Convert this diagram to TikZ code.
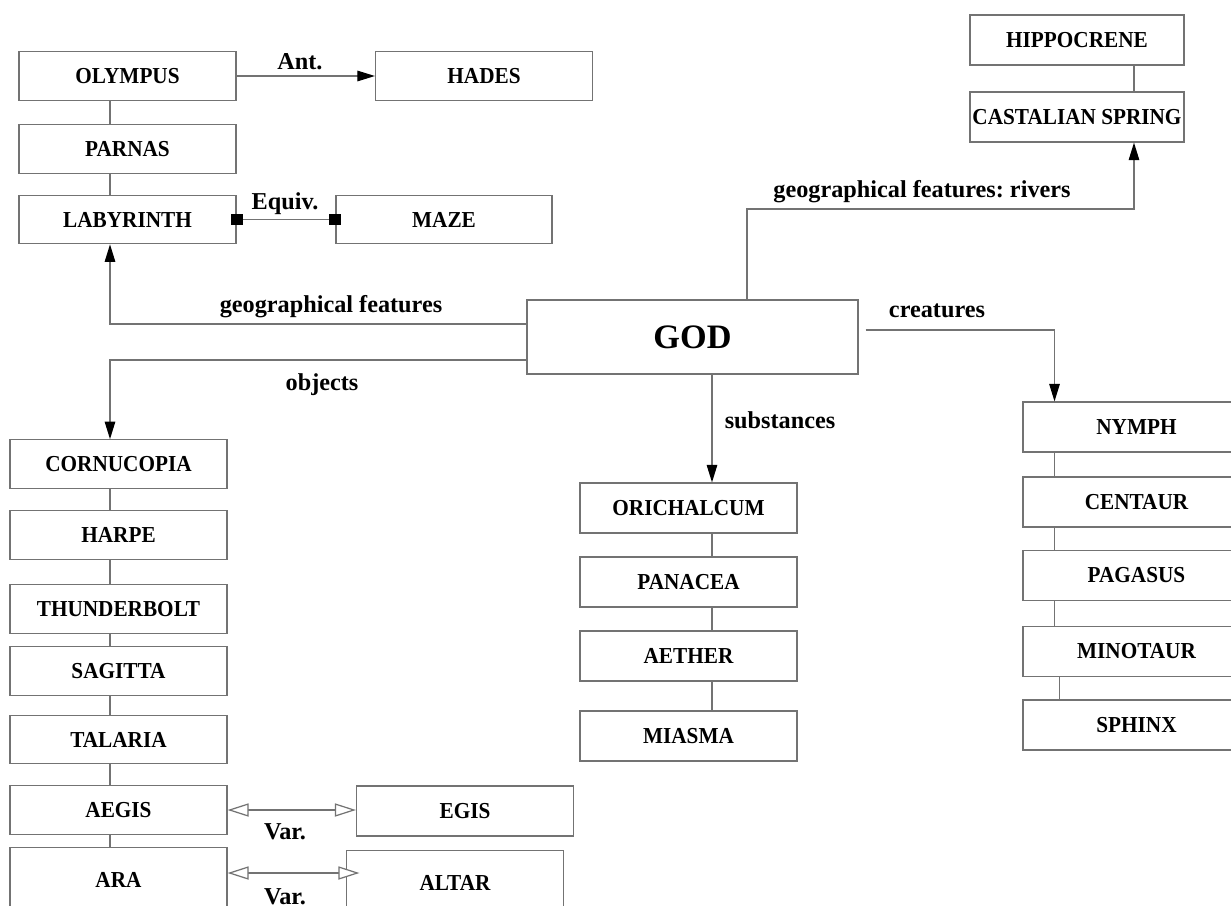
\documentclass[tikz,border=0pt]{standalone}
\usepackage{fontspec}
\setmainfont{Liberation Serif}
\newfontfamily\boxfont[FakeStretch=0.93]{Liberation Serif}
\usetikzlibrary{positioning}
\usetikzlibrary{arrows.meta}

\begin{document}
\begin{tikzpicture}
      [
        x = 0.02cm, y = -0.02cm,
        box/.style = {draw=black!55, line width=0.7pt, fill=white, minimum width=4.34cm, minimum height=0.97cm, inner sep=0pt, font=\boxfont\fontsize{13}{15}\selectfont\bfseries},
        link/.style = {draw=black!55, line width=0.7pt},
        arr/.style = {link, -{Triangle[length=10pt,width=6pt,black]}},
        vararr/.style = {link, {Triangle[open,length=12pt,width=7.5pt,fill=white]}-{Triangle[open,length=12pt,width=7.5pt,fill=white]}},
        eqarr/.style = {link, {Square[length=6.8pt,width=6.8pt,black]}-{Square[length=6.8pt,width=6.8pt,black]}, shorten <=-3.4pt, shorten >=-3.4pt},
        lbl/.style = {font=\fontsize{13.8}{16}\selectfont\bfseries\frenchspacing}
      ]

      \useasboundingbox (0,0) rectangle (1231,906);

      \node[box] (olympus) at (127.5,76) {OLYMPUS};
      \node[box] (hades) at (484,76) {HADES};
      \node[box] (parnas) at (127.5,149) {PARNAS};
      \node[box] (labyrinth) at (127.5,219.5) {LABYRINTH};
      \node[box, minimum width=4.32cm] (maze) at (444,219.5) {MAZE};

      \node[box, minimum width=4.28cm, minimum height=1cm] (hippocrene) at (1077,40) {HIPPOCRENE};
      \node[box, minimum width=4.28cm, minimum height=1cm] (castalian) at (1077,117) {CASTALIAN SPRING};

      \node[box, minimum width=6.62cm, minimum height=1.48cm, font=\fontsize{19.5}{22}\selectfont\bfseries] (god) at (692.5,337) {GOD};

      \node[box] (cornucopia) at (118.5,464) {CORNUCOPIA};
      \node[box] (harpe) at (118.5,535) {HARPE};
      \node[box] (thunderbolt) at (118.5,609) {THUNDERBOLT};
      \node[box] (sagitta) at (118.5,671) {SAGITTA};
      \node[box] (talaria) at (118.5,739.5) {TALARIA};
      \node[box] (aegis) at (118.5,810) {AEGIS};
      \node[box, minimum height=1.3cm] (ara) at (118.5,880) {ARA};
      \node[box, minimum height=1cm] (egis) at (465,811) {EGIS};
      \node[box, minimum height=1.3cm] (altar) at (455,883) {ALTAR};

      \node[box, minimum height=1cm] (orichalcum) at (688.5,508) {ORICHALCUM};
      \node[box, minimum height=1cm] (panacea) at (688.5,582) {PANACEA};
      \node[box, minimum height=1cm] (aether) at (688.5,656) {AETHER};
      \node[box, minimum height=1cm] (miasma) at (688.5,736) {MIASMA};

      \node[box, minimum width=4.54cm, minimum height=1cm] (nymph) at (1136.5,427) {NYMPH};
      \node[box, minimum width=4.54cm, minimum height=1cm] (centaur) at (1136.5,502) {CENTAUR};
      \node[box, minimum width=4.54cm, minimum height=1cm] (pagasus) at (1136.5,575.5) {PAGASUS};
      \node[box, minimum width=4.54cm, minimum height=1cm] (minotaur) at (1136.5,651.5) {MINOTAUR};
      \node[box, minimum width=4.54cm, minimum height=1cm] (sphinx) at (1136.5,725) {SPHINX};

      \coordinate (rivers) at (940,209);
      \coordinate (araR) at ([yshift=0.14cm]ara.east);
      \coordinate (altarL) at (araR -| altar.west);

      \draw[arr] (olympus.east) -- (hades.west);
      \draw[link] ([xshift=-0.35cm]olympus.south) -- ([xshift=-0.35cm]parnas.north);
      \draw[link] ([xshift=-0.35cm]parnas.south) -- ([xshift=-0.35cm]labyrinth.north);
      \draw[eqarr] (labyrinth.east) -- (maze.west);
      \draw[link] ([xshift=1.14cm]hippocrene.south) -- ([xshift=1.14cm]castalian.north);

      \draw[arr] ([yshift=0.26cm]god.west) -| ([xshift=-0.35cm]labyrinth.south);
      \draw[arr] ([yshift=-0.46cm]god.west) -| ([xshift=-0.17cm]cornucopia.north);
      \draw[arr] ([xshift=1.09cm]god.north) |- (rivers) -| ([xshift=1.14cm]castalian.south);
      \draw[arr] ([xshift=0.39cm]god.south) -- ([xshift=0.39cm]god.south |- orichalcum.north);
      \draw[arr] ([xshift=0.14cm,yshift=0.14cm]god.east) -| ([xshift=-1.64cm]nymph.north);

      \draw[link] ([xshift=-0.17cm]cornucopia.south) -- ([xshift=-0.17cm]harpe.north);
      \draw[link] ([xshift=-0.17cm]harpe.south) -- ([xshift=-0.17cm]thunderbolt.north);
      \draw[link] ([xshift=-0.17cm]thunderbolt.south) -- ([xshift=-0.17cm]sagitta.north);
      \draw[link] ([xshift=-0.17cm]sagitta.south) -- ([xshift=-0.17cm]talaria.north);
      \draw[link] ([xshift=-0.17cm]talaria.south) -- ([xshift=-0.17cm]aegis.north);
      \draw[link] ([xshift=-0.17cm]aegis.south) -- ([xshift=-0.17cm]ara.north);
      \draw[vararr] (aegis.east) -- (aegis.east -| egis.west);
      \draw[vararr] (araR) -- ([xshift=0.27cm]altarL);

      \draw[link] ([xshift=0.47cm]orichalcum.south) -- ([xshift=0.47cm]panacea.north);
      \draw[link] ([xshift=0.47cm]panacea.south) -- ([xshift=0.47cm]aether.north);
      \draw[link] ([xshift=0.47cm]aether.south) -- ([xshift=0.47cm]miasma.north);

      \draw[link] ([xshift=-1.64cm]nymph.south) -- ([xshift=-1.64cm]centaur.north);
      \draw[link] ([xshift=-1.64cm]centaur.south) -- ([xshift=-1.64cm]pagasus.north);
      \draw[link] ([xshift=-1.64cm]pagasus.south) -- ([xshift=-1.64cm]minotaur.north);
      \draw[link] ([xshift=-1.54cm]minotaur.south) -- ([xshift=-1.54cm]sphinx.north);

      \node[lbl] (antlbl) at (300,62) {Ant.};
      \node[lbl] (equivlbl) at (285,204) {Equiv.};
      \node[lbl] (geolbl) at (331,307) {geographical features};
      \node[lbl] (objlbl) at (322,385) {objects};
      \node[lbl] (riverlbl) at (922,192) {geographical features: rivers};
      \node[lbl] (creaturelbl) at (937,311) {creatures};
      \node[lbl] (substlbl) at (780,420) {substances};
      \node[lbl] (varlbl) at (285,832) {Var.};
      \node[lbl] (varlbltwo) at (285,897) {Var.};

    \end{tikzpicture}
\end{document}
